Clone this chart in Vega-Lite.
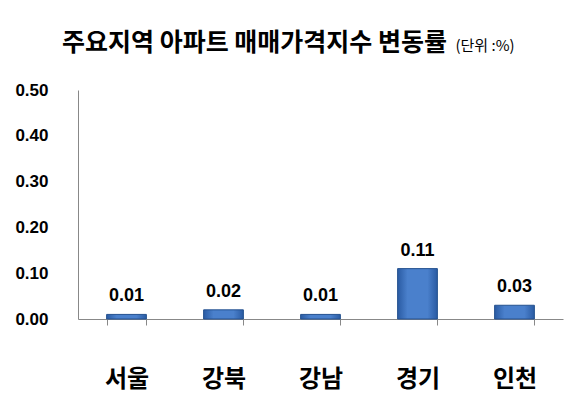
{
  "$schema": "https://vega.github.io/schema/vega-lite/v6.json",
  "autosize": {"type": "none"},
  "width": 485,
  "height": 229,
  "padding": {"left": 78, "top": 90, "right": 19, "bottom": 92},
  "background": "white",
  "view": {"stroke": null},
  "title": {
    "text": "주요지역 아파트 매매가격지수 변동률",
    "font": "Noto Sans CJK KR",
    "fontSize": 25,
    "fontWeight": "bold",
    "color": "#000000",
    "anchor": "start",
    "frame": "group",
    "dx": -16,
    "offset": -18
  },
  "data": {
    "values": [
      {"region": "서울", "rate": 0.01},
      {"region": "강북", "rate": 0.02},
      {"region": "강남", "rate": 0.01},
      {"region": "경기", "rate": 0.11},
      {"region": "인천", "rate": 0.03}
    ]
  },
  "encoding": {
    "x": {
      "field": "region",
      "type": "nominal",
      "sort": null,
      "scale": {"paddingInner": 0.59, "paddingOuter": 0.295},
      "axis": {
        "title": null,
        "labelAngle": 0,
        "labelFont": "Noto Sans CJK KR",
        "labelFontSize": 24,
        "labelFontWeight": "bold",
        "labelColor": "#000000",
        "labelPadding": 42,
        "tickBand": "extent",
        "tickSize": 6,
        "tickColor": "#888888",
        "domainColor": "#888888",
        "grid": false
      }
    },
    "y": {
      "field": "rate",
      "type": "quantitative",
      "scale": {"domain": [0, 0.5], "nice": false},
      "axis": {
        "title": "(단위 :%)",
        "titleFont": "Noto Sans CJK KR",
        "titleFontSize": 15,
        "titleFontWeight": "normal",
        "titleColor": "#000000",
        "titleAngle": 0,
        "titleAlign": "left",
        "titleBaseline": "middle",
        "titleX": 377,
        "titleY": -45,
        "values": [0, 0.1, 0.2, 0.3, 0.4, 0.5],
        "format": ".2f",
        "labelFont": "Liberation Sans",
        "labelFontSize": 17,
        "labelFontWeight": "bold",
        "labelColor": "#000000",
        "labelPadding": 30,
        "ticks": false,
        "grid": false,
        "domainColor": "#888888"
      }
    }
  },
  "layer": [
    {
      "mark": {
        "type": "bar",
        "fill": {
          "gradient": "linear",
          "x1": 0, "y1": 0, "x2": 1, "y2": 0,
          "stops": [
            {"offset": 0, "color": "#2a5ba3"},
            {"offset": 0.25, "color": "#4a80cc"},
            {"offset": 0.75, "color": "#4a80cc"},
            {"offset": 1, "color": "#2a5ba3"}
          ]
        },
        "stroke": "#24518f",
        "strokeWidth": 1
      }
    },
    {
      "mark": {
        "type": "text",
        "baseline": "alphabetic",
        "dy": -13,
        "font": "Liberation Sans",
        "fontSize": 18,
        "fontWeight": "bold",
        "color": "#000000"
      },
      "encoding": {
        "text": {"field": "rate", "type": "quantitative", "format": ".2f"}
      }
    }
  ]
}
